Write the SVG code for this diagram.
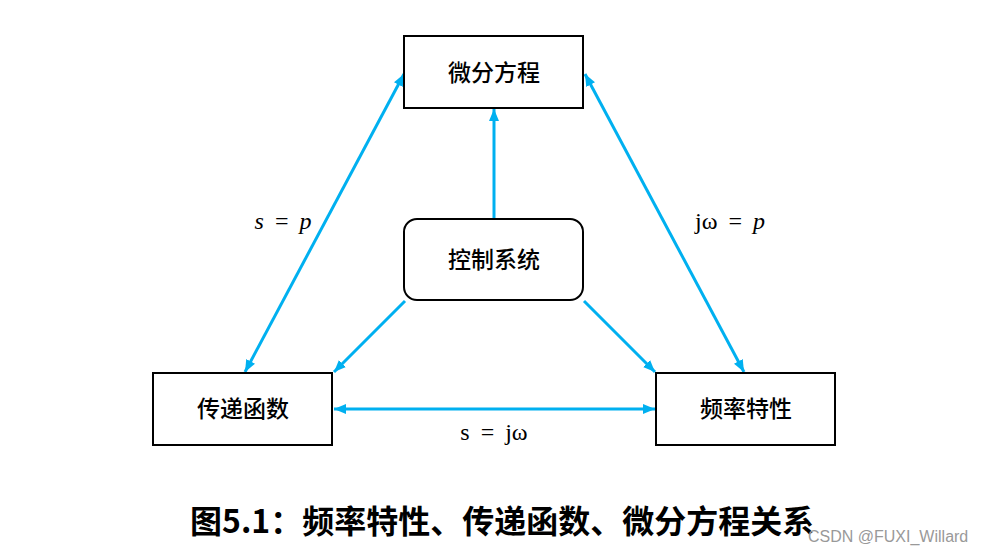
<svg xmlns="http://www.w3.org/2000/svg" width="985" height="554" viewBox="0 0 985 554">
<style>
.box{fill:#fff;stroke:#000;stroke-width:2}
.lbl{font-family:"Noto Sans CJK SC",sans-serif;font-size:23px;font-weight:500;fill:#000;text-anchor:middle}
.con{stroke:#00B0F0;stroke-width:3;fill:none}
.math{font-family:"Liberation Serif","DejaVu Serif",serif;font-size:24px;fill:#000;text-anchor:middle;word-spacing:5px}
.cap{font-family:"Noto Sans CJK SC",sans-serif;font-size:32px;font-weight:700;fill:#000}
.wm{font-family:"Liberation Sans",Arial,sans-serif;font-size:16px;fill:#999}
</style>
<defs>
<marker id="ah" viewBox="0 0 12 10" refX="12" refY="5" markerWidth="12" markerHeight="10" markerUnits="userSpaceOnUse" orient="auto-start-reverse">
<path d="M0,0 L12,5 L0,10 Z" fill="#00B0F0"/>
</marker>
</defs>
<rect width="985" height="554" fill="#fff"/>
<g id="connectors">
<line class="con" x1="494" y1="219" x2="494" y2="109" marker-end="url(#ah)"/>
<line class="con" x1="404" y1="74" x2="245" y2="372" marker-start="url(#ah)" marker-end="url(#ah)"/>
<line class="con" x1="585" y1="74" x2="744" y2="372" marker-start="url(#ah)" marker-end="url(#ah)"/>
<line class="con" x1="334" y1="409" x2="655" y2="409" marker-start="url(#ah)" marker-end="url(#ah)"/>
<line class="con" x1="405" y1="301" x2="334" y2="372" marker-end="url(#ah)"/>
<line class="con" x1="584" y1="301" x2="655" y2="372" marker-end="url(#ah)"/>
</g>
<g id="weifen">
<rect class="box" x="404" y="36" width="179" height="72"/>
<text class="lbl" x="494" y="81">微分方程</text>
</g>
<g id="kongzhi">
<rect class="box" x="404" y="219" width="179" height="81" rx="13"/>
<text class="lbl" x="494" y="268">控制系统</text>
</g>
<g id="chuandi">
<rect class="box" x="153" y="373" width="179" height="72"/>
<text class="lbl" x="243" y="417">传递函数</text>
</g>
<g id="pinlv">
<rect class="box" x="656" y="373" width="179" height="72"/>
<text class="lbl" x="746" y="417">频率特性</text>
</g>
<g id="labels">
<text class="math" x="283" y="229"><tspan font-style="italic">s</tspan> = <tspan font-style="italic">p</tspan></text>
<text class="math" x="730" y="229">jω = <tspan font-style="italic">p</tspan></text>
<text class="math" x="494" y="440">s = jω</text>
</g>
<text class="cap" x="190" y="533">图5.1：频率特性、传递函数、微分方程关系</text>
<text class="wm" x="808" y="542">CSDN @FUXI_Willard</text>
</svg>
